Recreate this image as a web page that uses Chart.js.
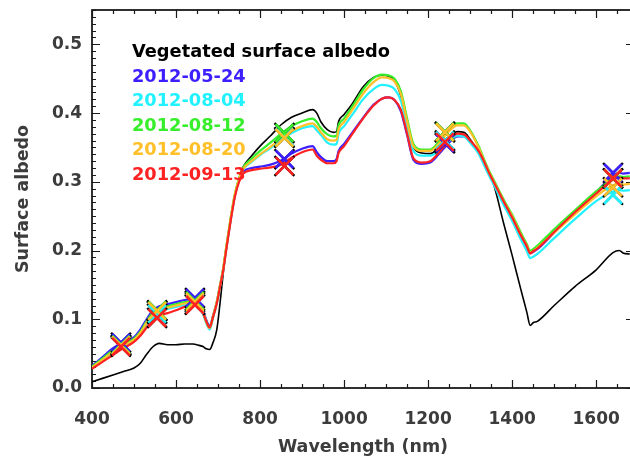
<!DOCTYPE html>
<html>
<head>
<meta charset="utf-8">
<script src="https://cdn.jsdelivr.net/npm/chart.js@4"></script>
<style>
  html, body { margin: 0; padding: 0; overflow: hidden; background: #ffffff; }
  #wrap { position: relative; width: 636px; height: 462px; }
</style>
</head>
<body>
<div id="wrap"><canvas id="albedo" width="636" height="462"></canvas></div>
<script>
// Spectral sampling (nm) shared by every albedo spectrum
const wavelength = [400, 425, 450, 475, 500, 515, 530, 545, 560, 580, 600, 620, 640, 655, 665, 672, 680, 688, 697, 705,
  712, 720, 730, 740, 750, 760, 780, 800, 825, 850, 875, 900, 925, 935, 945, 960, 975, 982, 987, 1000,
  1020, 1045, 1070, 1090, 1105, 1120, 1135, 1150, 1165, 1185, 1205, 1225, 1250, 1270, 1285, 1300, 1320, 1335, 1345, 1355,
  1380, 1400, 1420, 1435, 1443, 1450, 1460, 1500, 1550, 1600, 1640, 1655, 1665, 1680];

const vegetatedAlbedo = [0.009, 0.014, 0.019, 0.024, 0.029, 0.036, 0.049, 0.060, 0.065, 0.063, 0.063, 0.064, 0.064, 0.062, 0.060, 0.057, 0.056, 0.066, 0.085, 0.125,
  0.165, 0.205, 0.245, 0.280, 0.305, 0.322, 0.338, 0.352, 0.367, 0.383, 0.394, 0.400, 0.405, 0.400, 0.387, 0.376, 0.372, 0.373, 0.388, 0.398,
  0.414, 0.438, 0.452, 0.455, 0.454, 0.447, 0.425, 0.385, 0.350, 0.342, 0.341, 0.350, 0.365, 0.373, 0.372, 0.362, 0.343, 0.322, 0.310, 0.298,
  0.239, 0.193, 0.145, 0.110, 0.091, 0.095, 0.097, 0.120, 0.148, 0.172, 0.197, 0.200, 0.196, 0.195];

const albedo20120524 = [0.032, 0.045, 0.058, 0.066, 0.074, 0.085, 0.100, 0.113, 0.119, 0.122, 0.125, 0.128, 0.129, 0.125, 0.112, 0.099, 0.090, 0.105, 0.125, 0.150,
  0.172, 0.205, 0.245, 0.280, 0.303, 0.315, 0.320, 0.322, 0.325, 0.331, 0.341, 0.348, 0.352, 0.343, 0.336, 0.330, 0.330, 0.333, 0.345, 0.355,
  0.372, 0.393, 0.412, 0.421, 0.423, 0.419, 0.403, 0.368, 0.332, 0.326, 0.328, 0.340, 0.357, 0.366, 0.366, 0.358, 0.343, 0.325, 0.312, 0.300,
  0.270, 0.248, 0.223, 0.205, 0.196, 0.198, 0.202, 0.226, 0.256, 0.285, 0.309, 0.313, 0.312, 0.313];

const albedo20120804 = [0.030, 0.041, 0.052, 0.061, 0.069, 0.079, 0.093, 0.106, 0.112, 0.115, 0.118, 0.121, 0.122, 0.118, 0.106, 0.094, 0.085, 0.102, 0.123, 0.148,
  0.171, 0.205, 0.245, 0.280, 0.303, 0.318, 0.329, 0.339, 0.349, 0.361, 0.371, 0.378, 0.381, 0.375, 0.368, 0.357, 0.354, 0.355, 0.370, 0.381,
  0.398, 0.420, 0.435, 0.441, 0.440, 0.435, 0.418, 0.380, 0.345, 0.338, 0.338, 0.345, 0.360, 0.367, 0.366, 0.357, 0.341, 0.322, 0.309, 0.297,
  0.266, 0.243, 0.217, 0.199, 0.189, 0.191, 0.195, 0.218, 0.246, 0.272, 0.286, 0.288, 0.287, 0.288];

const albedo20120812 = [0.031, 0.043, 0.055, 0.064, 0.072, 0.082, 0.097, 0.110, 0.116, 0.119, 0.122, 0.125, 0.126, 0.122, 0.110, 0.097, 0.088, 0.104, 0.125, 0.150,
  0.173, 0.207, 0.247, 0.282, 0.305, 0.321, 0.334, 0.345, 0.357, 0.370, 0.381, 0.388, 0.392, 0.387, 0.378, 0.369, 0.366, 0.367, 0.382, 0.392,
  0.410, 0.434, 0.451, 0.456, 0.455, 0.450, 0.432, 0.392, 0.355, 0.347, 0.347, 0.358, 0.377, 0.385, 0.385, 0.375, 0.352, 0.330, 0.316, 0.304,
  0.274, 0.252, 0.227, 0.209, 0.200, 0.202, 0.207, 0.231, 0.259, 0.286, 0.305, 0.308, 0.307, 0.308];

const albedo20120820 = [0.030, 0.041, 0.053, 0.062, 0.070, 0.080, 0.095, 0.108, 0.114, 0.117, 0.120, 0.123, 0.125, 0.121, 0.109, 0.096, 0.087, 0.104, 0.125, 0.150,
  0.173, 0.207, 0.247, 0.282, 0.304, 0.319, 0.330, 0.340, 0.351, 0.363, 0.374, 0.381, 0.385, 0.380, 0.372, 0.362, 0.360, 0.361, 0.376, 0.387,
  0.405, 0.428, 0.445, 0.452, 0.451, 0.446, 0.428, 0.388, 0.352, 0.345, 0.345, 0.355, 0.374, 0.382, 0.382, 0.373, 0.350, 0.328, 0.314, 0.302,
  0.272, 0.250, 0.224, 0.207, 0.197, 0.199, 0.204, 0.226, 0.253, 0.279, 0.295, 0.297, 0.296, 0.297];

const albedo20120913 = [0.028, 0.038, 0.048, 0.058, 0.067, 0.076, 0.088, 0.099, 0.105, 0.109, 0.113, 0.118, 0.121, 0.119, 0.108, 0.097, 0.088, 0.103, 0.123, 0.148,
  0.170, 0.203, 0.243, 0.278, 0.300, 0.312, 0.317, 0.319, 0.321, 0.325, 0.335, 0.343, 0.347, 0.338, 0.332, 0.327, 0.327, 0.330, 0.342, 0.352,
  0.370, 0.392, 0.411, 0.421, 0.423, 0.419, 0.405, 0.370, 0.334, 0.328, 0.330, 0.342, 0.361, 0.370, 0.369, 0.360, 0.345, 0.327, 0.313, 0.301,
  0.271, 0.248, 0.223, 0.206, 0.196, 0.199, 0.203, 0.227, 0.256, 0.283, 0.303, 0.306, 0.305, 0.305];

// Band-averaged albedo at the six band centres (nm)
const bandWavelength = [469, 555, 645, 858, 1240, 1640];
const band20120524 = [0.066, 0.112, 0.131, 0.333, 0.356, 0.313];
const band20120804 = [0.062, 0.108, 0.122, 0.365, 0.360, 0.281];
const band20120812 = [0.063, 0.113, 0.127, 0.371, 0.373, 0.305];
const band20120820 = [0.062, 0.112, 0.125, 0.364, 0.372, 0.292];
const band20120913 = [0.060, 0.102, 0.121, 0.323, 0.358, 0.305];

const dateLabels = ['2012-05-24', '2012-08-04', '2012-08-12', '2012-08-20', '2012-09-13'];
const vegetatedLabel = 'Vegetated surface albedo';
const xTickValues = [400, 600, 800, 1000, 1200, 1400, 1600];
const yTickValues = [0.0, 0.1, 0.2, 0.3, 0.4, 0.5];

const dateColors = ['#3c1eff', '#22f2ff', '#36ee2a', '#ffc02a', '#ff2222'];
const spectra = [albedo20120524, albedo20120804, albedo20120812, albedo20120820, albedo20120913];
const bands = [band20120524, band20120804, band20120812, band20120820, band20120913];

const toPoints = (xs, ys) => xs.map((x, i) => ({ x: x, y: ys[i] }));

const datasets = [];
// Vegetated reference spectrum, drawn beneath the dated spectra
datasets.push({
  label: vegetatedLabel, data: toPoints(wavelength, vegetatedAlbedo),
  borderColor: '#000000', borderWidth: 1.6, pointRadius: 0, fill: false,
  cubicInterpolationMode: 'monotone', order: 30
});
spectra.forEach((s, i) => {
  datasets.push({
    label: dateLabels[i], data: toPoints(wavelength, s),
    borderColor: dateColors[i], borderWidth: 2.2, pointRadius: 0, fill: false,
    cubicInterpolationMode: 'monotone', order: 25 - i
  });
});
// Band markers: a dark cross beneath each coloured cross
bands.forEach((b, i) => {
  datasets.push({
    label: dateLabels[i] + ' band outline', data: toPoints(bandWavelength, b),
    showLine: false, pointStyle: 'crossRot', pointRadius: 14, pointBorderWidth: 2.4,
    pointBorderColor: '#000000', pointBackgroundColor: '#000000', borderColor: '#000000',
    order: 15 - i, clip: false
  });
});
bands.forEach((b, i) => {
  datasets.push({
    label: dateLabels[i] + ' band', data: toPoints(bandWavelength, b),
    showLine: false, pointStyle: 'crossRot', pointRadius: 12.5, pointBorderWidth: 2.6,
    pointBorderColor: dateColors[i], pointBackgroundColor: dateColors[i], borderColor: dateColors[i],
    order: 5 - i, clip: false
  });
});

// Frame with inward major/minor ticks on all four sides
const framePlugin = {
  id: 'frameTicks',
  beforeDatasetsDraw(chart) {
    const { ctx, chartArea: a, scales: { x, y } } = chart;
    ctx.save();
    ctx.strokeStyle = '#1a1a1a';
    ctx.lineWidth = 1.2;
    ctx.beginPath();
    for (let v = 400; v <= 1690; v += 50) {
      const px = Math.round(x.getPixelForValue(v)) + 0.5;
      const len = (v % 200 === 0) ? 8 : 4;
      ctx.moveTo(px, a.bottom); ctx.lineTo(px, a.bottom - len);
      ctx.moveTo(px, a.top); ctx.lineTo(px, a.top + len);
    }
    for (let k = 0; k <= 55; k++) {
      const py = Math.round(y.getPixelForValue(k / 100)) + 0.5;
      const len = (k % 10 === 0) ? 8 : 4;
      ctx.moveTo(a.left, py); ctx.lineTo(a.left + len, py);
      ctx.moveTo(a.right, py); ctx.lineTo(a.right - len, py);
    }
    ctx.stroke();
    ctx.lineWidth = 1.8;
    ctx.strokeRect(a.left, a.top, a.right - a.left, a.bottom - a.top);
    ctx.restore();
  }
};

// Text key in the upper-left of the plot
const keyPlugin = {
  id: 'textKey',
  afterDatasetsDraw(chart) {
    const { ctx, chartArea: a } = chart;
    ctx.save();
    ctx.font = 'bold 17.8px "DejaVu Sans"';
    ctx.textAlign = 'left';
    ctx.textBaseline = 'middle';
    const left = a.left + 40;
    const rows = [{ t: vegetatedLabel, c: '#000000' }].concat(dateLabels.map((d, i) => ({ t: d, c: dateColors[i] })));
    rows.forEach((r, i) => {
      ctx.fillStyle = r.c;
      ctx.fillText(r.t, left, a.top + 42.5 + i * 24.5);
    });
    ctx.restore();
  }
};

const noEdgePadding = s => { s.paddingLeft = 0; s.paddingRight = 0; s.paddingTop = 0; s.paddingBottom = 0; };

new Chart(document.getElementById('albedo'), {
  type: 'line',
  data: { datasets: datasets },
  options: {
    responsive: false,
    animation: false,
    devicePixelRatio: 1,
    layout: { autoPadding: false, padding: { top: 10, right: 2, left: 0, bottom: 0 } },
    plugins: { legend: { display: false }, tooltip: { enabled: false } },
    scales: {
      x: {
        type: 'linear', min: 400, max: 1690,
        afterFit: s => { s.height = 74; noEdgePadding(s); },
        afterBuildTicks: s => { s.ticks = xTickValues.map(v => ({ value: v })); },
        grid: { display: false, drawTicks: false },
        border: { display: false },
        ticks: {
          padding: 21, color: '#3c3c3c', autoSkip: false, maxRotation: 0,
          font: { family: 'DejaVu Sans', weight: 'bold', size: 17 },
          callback: v => String(v)
        },
        title: {
          display: true, text: 'Wavelength (nm)', color: '#3c3c3c',
          font: { family: 'DejaVu Sans', weight: 'bold', size: 17.5 },
          padding: { top: 0, bottom: 4 }
        }
      },
      y: {
        type: 'linear', min: 0, max: 0.55,
        afterFit: s => { s.width = 92; noEdgePadding(s); },
        afterBuildTicks: s => { s.ticks = yTickValues.map(v => ({ value: v })); },
        grid: { display: false, drawTicks: false },
        border: { display: false },
        ticks: {
          padding: 10, color: '#3c3c3c', autoSkip: false,
          font: { family: 'DejaVu Sans', weight: 'bold', size: 17 },
          callback: v => Number(v).toFixed(1)
        },
        title: {
          display: true, text: 'Surface albedo', color: '#3c3c3c',
          font: { family: 'DejaVu Sans', weight: 'bold', size: 17.5 },
          padding: { top: 13, bottom: 0 }
        }
      }
    }
  },
  plugins: [framePlugin, keyPlugin]
});
</script>
</body>
</html>
